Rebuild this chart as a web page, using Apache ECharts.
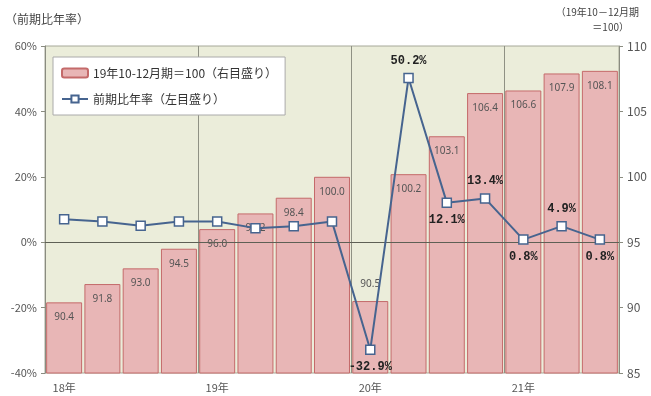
<!DOCTYPE html>
<html>
<head>
<meta charset="utf-8">
<script src="https://cdn.jsdelivr.net/npm/echarts@6/dist/echarts.min.js"></script>
<style>
  html, body { margin: 0; padding: 0; background: #fff; }
  #chart { width: 651px; height: 396px; }
</style>
</head>
<body>
<div id="chart"></div>
<script>
// Quarterly categories, 2018 Q1 .. 2021 Q3
const quarters = ['18年', '', '', '', '19年', '', '', '', '20年', '', '', '', '21年', '', ''];

// Level index (2019 Oct–Dec = 100), right axis
const indexLevel = [90.4, 91.8, 93.0, 94.5, 96.0, 97.2, 98.4, 100.0, 90.5, 100.2, 103.1, 106.4, 106.6, 107.9, 108.1];

// Annualised quarter-on-quarter growth (%), left axis
const growthRate = [7.0, 6.3, 5.0, 6.3, 6.3, 4.3, 4.9, 6.3, -32.9, 50.2, 12.1, 13.4, 0.8, 4.9, 0.8];

// Which growth points carry a value label, and on which side
const rateLabelSide = { 8: 'bottom', 9: 'top', 10: 'bottom', 11: 'top', 12: 'bottom', 13: 'top', 14: 'bottom' };

const leftTicks = [-40, -20, 0, 20, 40, 60];
const rightTicks = [85, 90, 95, 100, 105, 110];

const chart = echarts.init(document.getElementById('chart'), null, { renderer: 'canvas' });

const axisText = { color: '#555', fontSize: 11, fontFamily: 'Noto Sans CJK JP, sans-serif' };

chart.setOption({
  animation: false,
  backgroundColor: '#ffffff',
  grid: {
    left: 45, right: 32, top: 46, bottom: 23,
    show: true,
    backgroundColor: '#ebedda',
    borderColor: '#a6a898',
    borderWidth: 1
  },
  legend: {
    orient: 'vertical',
    left: 53, top: 57,
    padding: [10, 8, 10, 8],
    itemGap: 14,
    itemWidth: 26, itemHeight: 9,
    backgroundColor: '#ffffff',
    borderColor: '#aaaaaa',
    borderWidth: 1,
    textStyle: { color: '#333', fontSize: 12, fontFamily: 'Noto Sans CJK JP, sans-serif' },
    data: [
      { name: '19年10-12月期＝100（右目盛り）' },
      { name: '前期比年率（左目盛り）' }
    ]
  },
  graphic: [
    { type: 'text', left: 5, top: 13, style: { text: '（前期比年率）', fill: '#444', font: '12px "Noto Sans CJK JP"' } },
    { type: 'text', right: 12, top: 7, style: { text: '（19年10－12月期', fill: '#444', font: '10px "Noto Sans CJK JP"' } },
    { type: 'text', right: 22, top: 22, style: { text: '＝100）', fill: '#444', font: '10px "Noto Sans CJK JP"' } }
  ],
  xAxis: {
    type: 'category',
    data: quarters,
    boundaryGap: true,
    axisLine: { lineStyle: { color: '#8a8c80' } },
    axisTick: { show: false },
    axisLabel: Object.assign({ interval: 0, margin: 9 }, axisText),
    // year boundaries only
    splitLine: {
      show: true,
      interval: idx => idx > 0 && idx < quarters.length && idx % 4 === 0,
      lineStyle: { color: '#8f9184', width: 1 }
    }
  },
  yAxis: [
    {
      type: 'value',
      min: leftTicks[0], max: leftTicks[leftTicks.length - 1], interval: 20,
      axisLine: { show: true, lineStyle: { color: '#8a8c80' } },
      axisTick: { show: true, length: 4, lineStyle: { color: '#8a8c80' } },
      axisLabel: Object.assign({ formatter: v => v + '%', margin: 8 }, axisText),
      splitLine: { show: false }
    },
    {
      type: 'value',
      min: rightTicks[0], max: rightTicks[rightTicks.length - 1], interval: 5,
      axisLine: { show: true, lineStyle: { color: '#8a8c80' } },
      axisTick: { show: true, length: 4, lineStyle: { color: '#8a8c80' } },
      axisLabel: Object.assign({ margin: 8 }, axisText, { fontSize: 12 }),
      splitLine: { show: false }
    }
  ],
  series: [
    {
      name: '19年10-12月期＝100（右目盛り）',
      type: 'bar',
      yAxisIndex: 1,
      data: indexLevel.map((v, i) => ({
        value: v,
        label: i === 8 ? { position: 'top', distance: 12 } : undefined
      })),
      barCategoryGap: '6%',
      itemStyle: { color: '#e8b6b6', borderColor: '#c46a6a', borderWidth: 1 },
      label: {
        show: true,
        position: 'insideTop',
        distance: 10,
        color: '#555',
        fontSize: 10,
        fontFamily: 'Noto Sans, sans-serif',
        formatter: p => p.value.toFixed(1)
      },
      z: 2
    },
    {
      name: '前期比年率（左目盛り）',
      type: 'line',
      yAxisIndex: 0,
      data: growthRate.map((v, i) => ({
        value: v,
        label: rateLabelSide[i]
          ? { show: true, position: rateLabelSide[i] }
          : { show: false }
      })),
      symbol: 'rect',
      symbolSize: 9,
      itemStyle: { color: '#ffffff', borderColor: '#46648f', borderWidth: 1.5 },
      lineStyle: { color: '#46648f', width: 2 },
      label: {
        distance: 6,
        color: '#222',
        fontSize: 12,
        fontWeight: 'bold',
        fontFamily: 'Liberation Mono, monospace',
        formatter: p => p.value.toFixed(1) + '%'
      },
      markLine: {
        silent: true,
        symbol: 'none',
        label: { show: false },
        lineStyle: { color: '#5e6055', width: 1, type: 'solid' },
        data: [{ yAxis: 0 }]
      },
      z: 5
    }
  ]
});
</script>
</body>
</html>
